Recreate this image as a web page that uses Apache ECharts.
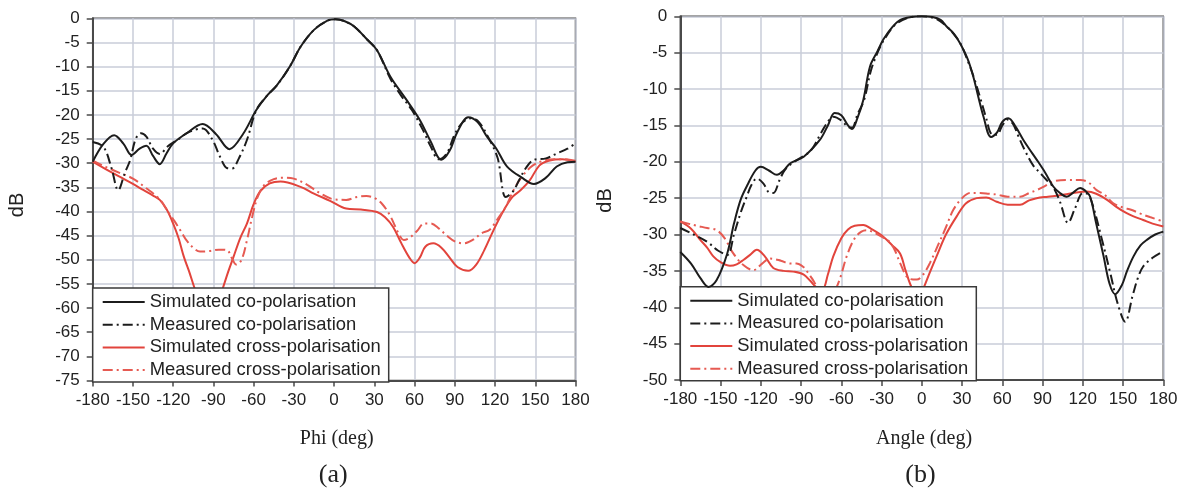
<!DOCTYPE html>
<html><head><meta charset="utf-8">
<script src="https://cdn.jsdelivr.net/npm/echarts@6/dist/echarts.min.js"></script>
<style>html,body{margin:0;padding:0;background:#fff}#c{width:1184px;height:489px}</style>
</head><body><div id="c"></div><script>
// ---- shared ----
var seriesNames = ['Simulated co-polarisation','Measured co-polarisation','Simulated cross-polarisation','Measured cross-polarisation'];
var xTicks = [-180,-150,-120,-90,-60,-30,0,30,60,90,120,150,180];
var titleA = 'Phi (deg)', captionA = '(a)';
var titleB = 'Angle (deg)', captionB = '(b)';
var yLabel = 'dB';

// ---- chart (a) ----
var aSimCoX = [-180,-172,-164,-157,-151,-145,-140,-135,-130,-125,-120,-110,-98,-88,-78,-68,-58,-50,-43,-33,-25,-15,-5,1,8,15,25,32,42,54,64,72,80,86,92,100,107,114,121,129,140,149,158,166,174,180];
var aSimCoY = [-29.7,-26,-24.2,-26,-28.3,-27,-26.4,-28.5,-30.2,-28,-25.9,-23.8,-21.9,-24,-27.1,-24,-19,-16,-14,-10,-5.9,-2.4,-0.5,-0.2,-0.6,-1.7,-4.5,-6.6,-12.1,-16.9,-21.1,-25.5,-29.3,-27.5,-23.5,-20.5,-21.5,-24.5,-27,-30.7,-33,-34.3,-33,-30.7,-29.8,-29.7];
var aMeasCoX = [-180,-172,-166,-161,-156,-152,-148,-144,-140,-135,-130,-124,-117,-108,-98,-91,-85,-80,-76,-71,-65,-58,-50,-43,-33,-25,-15,-5,1,8,15,25,32,42,50,58,66,72,78,84,90,96,102,108,116,122,128,133,138,143,149,158,166,174,180];
var aMeasCoY = [-25.6,-26.6,-31,-35.6,-32,-29.3,-25,-23.8,-24.5,-27,-28.1,-26.5,-25.2,-23.5,-22.8,-25,-28.7,-31,-31.1,-29,-25.2,-19,-16,-14,-10,-5.9,-2.4,-0.5,-0.2,-0.6,-1.7,-4.5,-6.6,-12.5,-16,-19,-23,-26.5,-29.2,-28,-24,-21.5,-20.7,-21.5,-25.2,-29,-37,-36,-33.5,-31,-29.3,-29,-28,-27,-25.9];
var aSimXpX = [-180,-170,-160,-150,-142,-135,-130,-125,-120,-116,-112,-108,-104,-98,-93,-88,-83,-79,-75,-70,-65,-60,-55,-48,-40,-25,-15,-3,9,20,32,38,44,50,56,60,64,68,74,80,86,92,100,106,112,119,126,133,139,146,153,160,170,180];
var aSimXpY = [-29.7,-31.3,-32.8,-34.3,-35.6,-36.7,-37.6,-39.5,-42.5,-45.5,-49.4,-52.5,-55.9,-60,-61.5,-60,-55.9,-52.5,-49.4,-45.5,-42.5,-38.5,-35.8,-34.2,-33.8,-34.9,-36.3,-37.8,-39.4,-39.6,-40.1,-41.2,-43.2,-46.5,-49.5,-50.7,-49.5,-47.3,-46.6,-47.5,-49.5,-51.5,-52.3,-51,-48,-43.8,-40,-37,-35.6,-33.5,-30.5,-29.5,-29.2,-29.7];
var aMeasXpX = [-180,-170,-160,-150,-140,-130,-124,-119,-114,-110,-105,-100,-93,-86,-80,-76,-73,-69,-65,-61,-57,-52,-45,-38,-30,-20,-10,0,9,17,24,30,36,42,48,52,56,62,67,72,78,84,90,97,104,110,116,122,128,134,140,148,156,164,172,180];
var aMeasXpY = [-29.5,-30.8,-32,-33.2,-35.2,-37.5,-40,-42,-44.2,-46,-47.5,-48.3,-48.2,-47.9,-48,-49.8,-51,-50,-46,-41,-37,-34.5,-33.3,-33,-33.2,-34.5,-36.3,-37.5,-37.6,-37,-36.8,-37.2,-38.5,-41,-44.5,-45.9,-45.5,-44,-42.5,-42.5,-43.5,-45,-46.2,-46.6,-45.8,-44.5,-43.8,-41.5,-39,-35.5,-32.8,-30.5,-29.5,-29.2,-29.2,-29.5];

// ---- chart (b) ----
var bSimCoX = [-180,-172,-165,-159,-153,-145,-140,-135,-130,-124,-120,-114,-108,-103,-98,-88,-76,-70,-65,-60,-55,-52,-48,-43.6,-38.6,-33,-28.7,-22,-16,-8,0,8,14,18.5,24,28.5,34,38.4,42,46,51.6,56,60,64.5,70,75.7,80,85.6,92,98,103,108,113,118,122,125.5,130,135.5,140,144.2,149,153,157.8,163,168,174,180];
var bSimCoY = [-32.4,-34,-36,-37.2,-36.3,-32.6,-28.5,-25.2,-23.2,-21.2,-20.7,-21.2,-21.8,-21.2,-20.2,-19.3,-17,-15,-13.3,-13.6,-15,-15.5,-14,-11.5,-6.9,-4.8,-3.2,-1.5,-0.5,-0.1,0,-0.1,-0.5,-1.4,-2.4,-3.7,-5.8,-8.3,-11,-13.8,-16.6,-16,-14.5,-14,-15.2,-17,-18.2,-19.7,-21.5,-23.4,-24.3,-24.8,-24.2,-23.6,-24,-24.8,-28.5,-33,-36.8,-38.2,-37,-35,-33,-31.5,-30.7,-30,-29.6];
var bMeasCoX = [-180,-170,-160,-152,-145,-140,-135,-130.5,-127,-123,-118,-114,-110.7,-106,-102,-95,-83,-75,-70,-66,-60,-55,-52,-48,-43,-38,-33,-28,-20,-10,0,10,18,24,29,34,39,44,48,52,56,60,64,68,72,77,83,88,93,98,103,109,114,120,124,127.5,134,140.5,146,151.6,157,161,165,172,180];
var bMeasCoY = [-29.1,-30,-31,-32.2,-32.8,-30,-27,-24.8,-23.2,-22.3,-23,-24.2,-24.3,-22.5,-21.1,-20,-18.5,-16,-14.5,-13.8,-14.3,-15.2,-15.3,-13.5,-11.5,-7.5,-5,-3.2,-1.2,-0.2,0,-0.3,-1.3,-2.5,-3.8,-6,-8.5,-11.5,-14,-16.2,-16.3,-15,-14.2,-14.8,-16.5,-18.5,-20.5,-21.5,-22.5,-23.5,-25.5,-28.4,-26.5,-24.3,-24.5,-26,-30.5,-35.3,-39.5,-42,-38.5,-36,-34.4,-33.2,-32.3];
var bSimXpX = [-180,-172,-165.3,-160,-155.4,-150,-143,-138,-133,-128,-123,-117,-110.7,-103,-95.8,-88,-83,-78.3,-74,-70,-66,-60,-55,-50,-43.6,-37,-28.7,-22,-16.2,-12,-7,-2,1,6,11,18,26,33,40.9,48,55.8,64,73.2,80,85.6,94,103,113,123,130,137.8,145,152,157.8,165,172,180];
var bSimXpY = [-28.2,-29.2,-30.7,-31.8,-33,-33.8,-34.3,-34.1,-33.5,-32.8,-32.1,-33,-34.6,-35,-35.1,-35.5,-36.4,-37.3,-37.5,-35.5,-33,-30.5,-29.3,-28.8,-28.7,-29.3,-30.3,-31.5,-32.6,-35,-37.5,-38.5,-37.5,-35.2,-33,-30,-27.5,-25.7,-25,-24.9,-25.5,-25.9,-25.9,-25.3,-25,-24.8,-24.6,-24.3,-24.1,-24.4,-25.2,-26.2,-27,-27.5,-28,-28.5,-28.9];
var bMeasXpX = [-180,-170,-160,-152.9,-147,-140.5,-133,-125.6,-119,-113.2,-105,-98,-93.3,-88,-85.8,-82,-78,-72,-67,-63.4,-60,-56,-50,-45,-41.1,-35,-28,-24,-20,-16,-10,-3.8,1,6.1,12,18,23.5,30,36,43.4,50,55.8,64,73.2,80,85.6,92,98,108,118,124,130.3,136,142.7,150,156,162.6,170,180];
var bMeasXpY = [-28.2,-28.7,-29.1,-29.4,-30.5,-32.6,-34.2,-34.9,-34,-33.3,-33.6,-34,-34,-34.5,-35,-36,-37.2,-38.5,-38.5,-37.2,-35.5,-33,-30.5,-29.6,-29.4,-29.8,-30.5,-31,-32.2,-34,-36,-36.2,-35.5,-33.9,-31.5,-29,-26.6,-25,-24.3,-24.3,-24.4,-24.5,-24.8,-24.8,-24.3,-23.9,-23.3,-22.7,-22.5,-22.5,-22.8,-23.9,-24.5,-25.7,-26.3,-26.6,-27.1,-27.6,-28.2];

function zip(xs, ys){ return xs.map(function(x,i){ return [x, ys[i]]; }); }

var BLACK = '#1c1c1c', RED = '#e2443c', RED2 = '#e65a52';
var DASHDOT = [10,4,2,4];
var styles = [
  {color: BLACK, type: 'solid'},
  {color: BLACK, type: DASHDOT},
  {color: RED, type: 'solid'},
  {color: RED2, type: DASHDOT}
];
var dataA = [zip(aSimCoX,aSimCoY), zip(aMeasCoX,aMeasCoY), zip(aSimXpX,aSimXpY), zip(aMeasXpX,aMeasXpY)];
var dataB = [zip(bSimCoX,bSimCoY), zip(bMeasCoX,bMeasCoY), zip(bSimXpX,bSimXpY), zip(bMeasXpX,bMeasXpY)];

var series = [];
[dataA, dataB].forEach(function(set, gi){
  set.forEach(function(d, si){
    series.push({
      type: 'line', name: seriesNames[si], xAxisIndex: gi, yAxisIndex: gi,
      data: d, smooth: 0.35, symbol: 'none', showSymbol: false,
      lineStyle: {color: styles[si].color, width: 2, type: styles[si].type},
      itemStyle: {color: styles[si].color},
      z: 3 + (si < 2 ? 1 : 0), animation: false
    });
  });
});

var gridLine = {show: true, lineStyle: {color: '#c9ccd9', width: 1.5}};
function xAxis(gi){
  return {type: 'value', gridIndex: gi, min: -180, max: 180, interval: 30,
    axisLine: {show: true, onZero: false, lineStyle: {color: '#4a4a4a', width: 2}},
    axisTick: {show: true, length: 6, lineStyle: {color: '#4a4a4a', width: 1.5}},
    axisLabel: {fontSize: 17, color: '#222', margin: 11, fontFamily: 'Liberation Sans, Arial, sans-serif',
      formatter: function(v){ return xTicks.indexOf(v) >= 0 ? String(v) : ''; }},
    splitLine: gridLine};
}
function yAxis(gi, mn){
  return {type: 'value', gridIndex: gi, min: mn, max: 0, interval: 5,
    axisLine: {show: true, onZero: false, lineStyle: {color: '#4a4a4a', width: 2}},
    axisTick: {show: true, length: 6, lineStyle: {color: '#4a4a4a', width: 1.5}},
    axisLabel: {fontSize: 17, color: '#222', margin: 13, fontFamily: 'Liberation Sans, Arial, sans-serif'},
    splitLine: gridLine};
}
function legend(left, top){
  return {show: true, orient: 'vertical', left: left, top: top, data: seriesNames,
    backgroundColor: '#fff', borderColor: '#3a3a3a', borderWidth: 1.5, borderRadius: 0,
    padding: [5, 8, 3, 9], itemWidth: 42, itemHeight: 18, itemGap: 4.7,
    selectedMode: false, inactiveColor: '#222',
    itemStyle: {color: 'rgba(0,0,0,0)', borderWidth: 0, opacity: 0},
    textStyle: {fontSize: 18.4, color: '#222', fontFamily: 'Liberation Sans, Arial, sans-serif', lineHeight: 18}};
}
function txt(x, y, s, font, rot){
  return {type: 'text', x: x, y: y, rotation: rot || 0, z: 10,
    style: {text: s, font: font, fill: '#222', textAlign: 'center', textVerticalAlign: 'middle'}};
}

var chart = echarts.init(document.getElementById('c'), null, {renderer: 'canvas'});
chart.setOption({
  animation: false,
  backgroundColor: '#fff',
  grid: [
    {left: 92.7, top: 18.3, width: 482.8, height: 362.2, show: true, borderColor: '#4a4a4a', borderWidth: 1.5},
    {left: 680.3, top: 16.3, width: 483, height: 363.7, show: true, borderColor: '#4a4a4a', borderWidth: 1.5}
  ],
  xAxis: [xAxis(0), xAxis(1)],
  yAxis: [yAxis(0, -75), yAxis(1, -50)],
  legend: [legend(92.7, 288), legend(680.3, 286.7)],
  series: series,
  graphic: [
    txt(17.5, 205, yLabel, '20px "Liberation Sans", Arial, sans-serif', Math.PI/2),
    txt(605, 200.5, yLabel, '20px "Liberation Sans", Arial, sans-serif', Math.PI/2),
    txt(336.7, 439, titleA, '20px "Liberation Serif", "Times New Roman", serif'),
    txt(333.3, 475, captionA, '26px "Liberation Serif", "Times New Roman", serif'),
    txt(924, 439, titleB, '20px "Liberation Serif", "Times New Roman", serif'),
    txt(920.5, 475, captionB, '26px "Liberation Serif", "Times New Roman", serif')
  ]
});
</script></body></html>
